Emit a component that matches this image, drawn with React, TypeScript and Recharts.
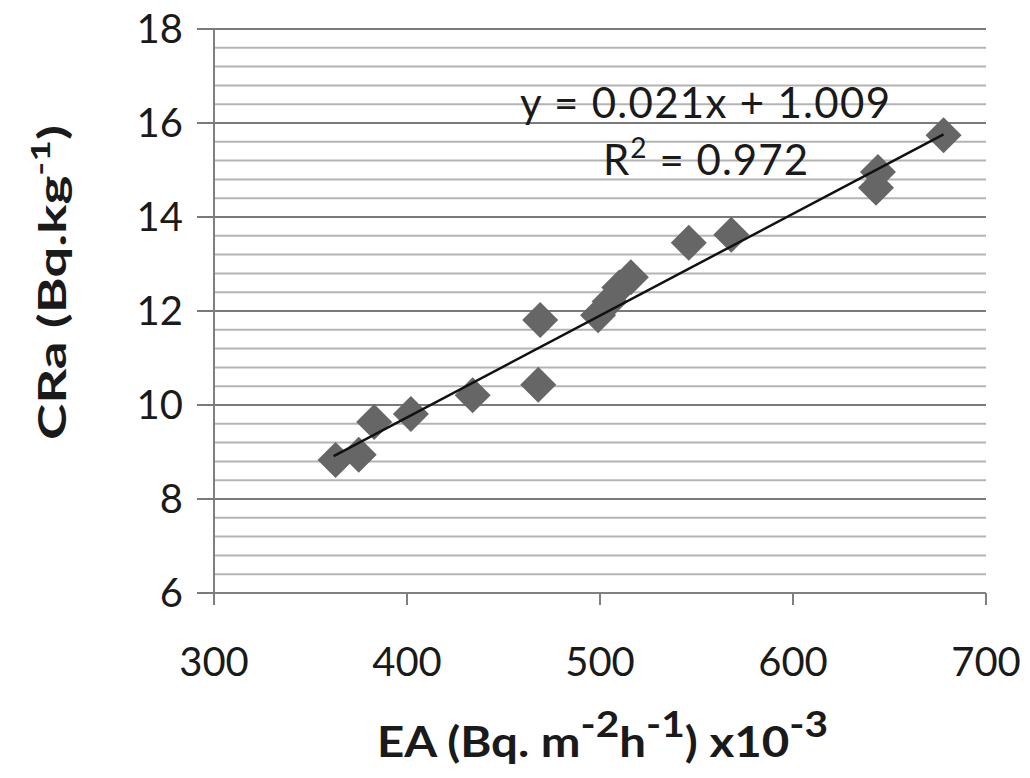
import { CartesianGrid, Scatter, ScatterChart, XAxis, YAxis } from "recharts";

// EA (x10^-3) vs CRa
const eaValues = [363, 375, 383, 402, 434, 468, 469, 499, 505, 510, 516, 546, 568, 643, 644, 678];
const craValues = [8.83, 8.94, 9.64, 9.81, 10.21, 10.43, 11.81, 11.91, 12.2, 12.5, 12.72, 13.45, 13.62, 14.62, 14.96, 15.74];

// trend line end points as drawn
const trendX = [362, 678];
const trendY = [8.91, 15.76];

const xTicks = [300, 400, 500, 600, 700];
const yTicks = [6, 8, 10, 12, 14, 16, 18];
const yGridValues = [
  6, 6.4, 6.8, 7.2, 7.6, 8, 8.4, 8.8, 9.2, 9.6, 10, 10.4, 10.8, 11.2, 11.6, 12, 12.4, 12.8, 13.2,
  13.6, 14, 14.4, 14.8, 15.2, 15.6, 16, 16.4, 16.8, 17.2, 17.6, 18,
];

const points = eaValues.map((x, i) => ({ x, y: craValues[i] }));
const trend = trendX.map((x, i) => ({ x, y: trendY[i] }));

const FONT = "Lato, 'Open Sans', sans-serif";

function Diamond(props: any) {
  const { cx, cy } = props;
  if (cx == null || cy == null) return <g />;
  const r = 18;
  return (
    <path
      d={`M${cx},${cy - r} L${cx + r},${cy} L${cx},${cy + r} L${cx - r},${cy} Z`}
      fill="#666666"
    />
  );
}

function GridLine(props: any) {
  const { x1, x2, y1, y2, index } = props;
  const major = index % 5 === 0;
  return (
    <line
      x1={x1}
      x2={x2}
      y1={y1}
      y2={y2}
      stroke={major ? "#7a7a7a" : "#b4b4b4"}
      strokeWidth={2}
    />
  );
}

export default function App() {
  return (
    <div style={{ position: "absolute", left: 0, top: 0, width: 1030, height: 778, background: "#fff" }}>
      <ScatterChart width={1030} height={778} margin={{ top: 29, right: 44, bottom: 0, left: 0 }}>
        <CartesianGrid vertical={false} horizontalValues={yGridValues} horizontal={GridLine} />
        <XAxis
          type="number"
          dataKey="x"
          domain={[300, 700]}
          ticks={xTicks}
          height={185}
          tickSize={12}
          tickMargin={43}
          axisLine={{ stroke: "#808080", strokeWidth: 2 }}
          tickLine={{ stroke: "#808080", strokeWidth: 2 }}
          tick={{ fill: "#1a1a1a", fontSize: 40, fontFamily: FONT }}
        />
        <YAxis
          type="number"
          dataKey="y"
          domain={[6, 18]}
          ticks={yTicks}
          interval={0}
          width={214}
          tickSize={17}
          tickMargin={14}
          axisLine={{ stroke: "#808080", strokeWidth: 2 }}
          tickLine={{ stroke: "#7a7a7a", strokeWidth: 2 }}
          tick={{ fill: "#1a1a1a", fontSize: 40, fontFamily: FONT }}
        />
        <Scatter data={points} shape={<Diamond />} isAnimationActive={false} />
        <Scatter
          data={trend}
          line={{ stroke: "#111111", strokeWidth: 2.5 }}
          shape={() => <g />}
          isAnimationActive={false}
        />
      </ScatterChart>
      <svg
        width={1030}
        height={778}
        style={{ position: "absolute", left: 0, top: 0, pointerEvents: "none" }}
        fontFamily={FONT}
      >
        <text x={520} y={118} fontSize={42} fill="#1a1a1a" textLength={370} lengthAdjust="spacing">
          y = 0.021x + 1.009
        </text>
        <text x={603} y={175} fontSize={42} fill="#1a1a1a" textLength={205} lengthAdjust="spacing">
          R<tspan dy={-17} fontSize={28}>2</tspan>
          <tspan dy={17}> = 0.972</tspan>
        </text>
        <text
          x={377}
          y={757}
          fontSize={42}
          fontWeight="bold"
          fill="#1a1a1a"
          textLength={451}
          lengthAdjust="spacingAndGlyphs"
        >
          EA (Bq. m<tspan dy={-20} fontSize={36}>-2</tspan>
          <tspan dy={20}>h</tspan>
          <tspan dy={-20} fontSize={36}>-1</tspan>
          <tspan dy={20}>) x10</tspan>
          <tspan dy={-20} fontSize={36}>-3</tspan>
        </text>
        <text
          transform="translate(66,440) rotate(-90)"
          x={0}
          y={0}
          fontSize={38}
          fontWeight="bold"
          fill="#1a1a1a"
          textLength={315}
          lengthAdjust="spacingAndGlyphs"
        >
          CRa (Bq.kg<tspan dy={-16} fontSize={26}>-1</tspan>
          <tspan dy={16}>)</tspan>
        </text>
      </svg>
    </div>
  );
}
